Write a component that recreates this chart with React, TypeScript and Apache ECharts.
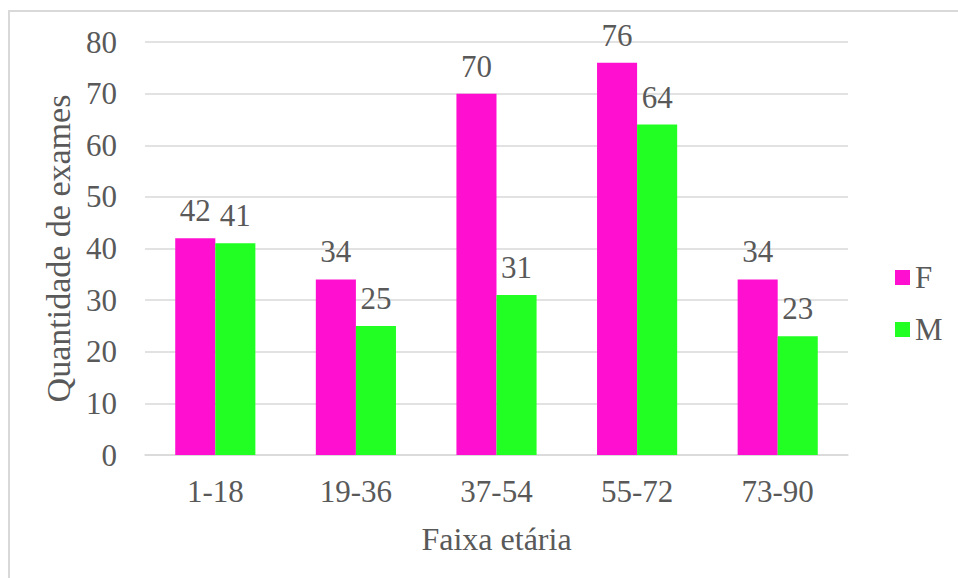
import React, { useEffect, useRef } from "react";
import * as echarts from "echarts";

const categories = ["1-18", "19-36", "37-54", "55-72", "73-90"];
const seriesF = [42, 34, 70, 76, 34];
const seriesM = [41, 25, 31, 64, 23];
const seriesNames = ["F", "M"];
const yTicks = { min: 0, max: 80, interval: 10 };
const xTitle = "Faixa etária";
const yTitle = "Quantidade de exames";

const FONT = "Liberation Serif";
const TEXT = "#595959";

export default function App() {
  const ref = useRef<HTMLDivElement>(null);
  useEffect(() => {
    if (!ref.current) return;
    const chart = echarts.init(ref.current, undefined, { renderer: "svg" });
    chart.setOption({
      animation: false,
      backgroundColor: "#ffffff",
      textStyle: { fontFamily: FONT, color: TEXT },
      graphic: [
        {
          type: "rect",
          shape: { x: 9, y: 11, width: 1200, height: 1200 },
          style: { fill: "none", stroke: "#d9d9d9", lineWidth: 2 },
          silent: true,
        },
      ],
      grid: { left: 145, right: 110, top: 42, bottom: 123 },
      legend: {
        orient: "vertical",
        left: 890,
        top: 257,
        itemWidth: 15,
        itemHeight: 15,
        itemGap: 21,
        icon: "rect",
        textStyle: { fontFamily: FONT, fontSize: 31, color: TEXT },
        data: seriesNames,
      },
      xAxis: {
        type: "category",
        data: categories,
        axisLine: { show: true, lineStyle: { color: "#d9d9d9", width: 1.5 } },
        axisTick: { show: false },
        axisLabel: { fontFamily: FONT, fontSize: 31, color: TEXT, margin: 21 },
        name: xTitle,
        nameLocation: "middle",
        nameGap: 68,
        nameTextStyle: { fontFamily: FONT, fontSize: 32, color: TEXT },
      },
      yAxis: {
        type: "value",
        min: yTicks.min,
        max: yTicks.max,
        interval: yTicks.interval,
        axisLine: { show: false },
        axisTick: { show: false },
        splitLine: { lineStyle: { color: "#d9d9d9", width: 1.5 } },
        axisLabel: { fontFamily: FONT, fontSize: 31, color: TEXT, margin: 28 },
        name: yTitle,
        nameLocation: "middle",
        nameGap: 66,
        nameTextStyle: { fontFamily: FONT, fontSize: 34, color: TEXT },
      },
      series: [
        {
          name: seriesNames[0],
          type: "bar",
          data: seriesF,
          barGap: "0%",
          barCategoryGap: "43%",
          itemStyle: { color: "#ff10d0" },
          label: { show: true, position: "top", distance: 12, fontFamily: FONT, fontSize: 31, color: TEXT },
        },
        {
          name: seriesNames[1],
          type: "bar",
          data: seriesM,
          barGap: "0%",
          barCategoryGap: "43%",
          itemStyle: { color: "#22ff22" },
          label: { show: true, position: "top", distance: 12, fontFamily: FONT, fontSize: 31, color: TEXT },
        },
      ],
    });
    return () => chart.dispose();
  }, []);
  return (
    <div
      ref={ref}
      style={{ position: "fixed", left: 0, top: 0, width: 958, height: 578 }}
    />
  );
}
